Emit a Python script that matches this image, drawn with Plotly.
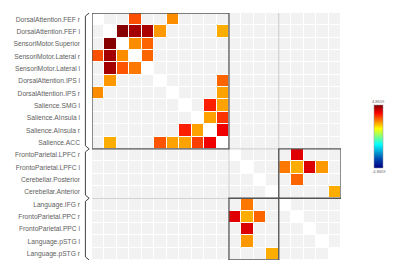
import plotly.graph_objects as go

roi_labels = [
    "DorsalAttention.FEF r", "DorsalAttention.FEF l", "SensoriMotor.Superior",
    "SensoriMotor.Lateral r", "SensoriMotor.Lateral l", "DorsalAttention.IPS l",
    "DorsalAttention.IPS r", "Salience.SMG l", "Salience.AInsula l",
    "Salience.AInsula r", "Salience.ACC", "FrontoParietal.LPFC r",
    "FrontoParietal.LPFC l", "Cerebellar.Posterior", "Cerebellar.Anterior",
    "Language.IFG r", "FrontoParietal.PPC r", "FrontoParietal.PPC l",
    "Language.pSTG l", "Language.pSTG r",
]

# significant connections: (row index, column index, T value)
conn_rows = [0, 0,
             1, 1, 1, 1, 1,
             2, 2, 2,
             3, 3, 3, 3,
             4, 4, 4,
             5, 5,
             6, 6,
             7, 7,
             8, 8,
             9, 9, 9,
             10, 10, 10, 10, 10, 10,
             11,
             12, 12, 12, 12,
             13,
             14,
             15,
             16, 16, 16,
             17,
             18,
             19]
conn_cols = [3, 6,
             2, 3, 4, 5, 10,
             1, 3, 4,
             0, 1, 2, 4,
             1, 2, 3,
             1, 10,
             0, 10,
             9, 10,
             9, 10,
             7, 8, 10,
             1, 5, 6, 7, 8, 9,
             16,
             15, 16, 17, 18,
             16,
             19,
             12,
             11, 12, 13,
             12,
             12,
             14]
conn_vals = [2.9, 2.3,
             4.8, 4.5, 4.45, 2.2, 2.0,
             4.8, 2.3, 2.7,
             2.9, 4.5, 2.3, 2.7,
             4.5, 2.85, 2.5,
             2.2, 2.7,
             2.3, 2.1,
             3.35, 2.1,
             2.1, 3.15,
             3.35, 2.1, 3.75,
             2.0, 2.85, 2.1, 2.1, 3.05, 3.75,
             3.9,
             2.5, 2.0, 3.95, 2.2,
             2.7,
             2.0,
             2.5,
             3.9, 2.0, 2.7,
             3.95,
             2.2,
             2.0]

t_max = 4.8659
n = len(roi_labels)

base = [[1 if i == j else 0 for j in range(n)] for i in range(n)]
zvals = [[None] * n for _ in range(n)]
for r, c, v in zip(conn_rows, conn_cols, conn_vals):
    zvals[r][c] = v

jet = [[0, "rgb(0,0,131)"], [0.125, "rgb(0,60,170)"], [0.375, "rgb(5,255,255)"],
       [0.625, "rgb(255,255,0)"], [0.875, "rgb(250,0,0)"], [1, "rgb(128,0,0)"]]

cb_x = (366 - 84.3) / 248.7
cb_w = 9

fig = go.Figure()
fig.add_trace(go.Heatmap(
    z=base, x=list(range(n)), y=list(range(n)),
    colorscale=[[0, "#f2f2f2"], [1, "#ffffff"]], zmin=0, zmax=1,
    showscale=False, xgap=1, ygap=1, hoverinfo="skip"))
fig.add_trace(go.Heatmap(
    z=zvals, x=list(range(n)), y=list(range(n)),
    colorscale=jet, zmin=-t_max, zmax=t_max, xgap=1, ygap=1,
    colorbar=dict(
        lenmode="pixels", len=63, thicknessmode="pixels", thickness=cb_w,
        x=cb_x, xanchor="left", xpad=0, y=0.5, yanchor="middle", ypad=0,
        showticklabels=False, ticks="", outlinewidth=0.5, outlinecolor="#999")))

shapes = []
light = dict(color="#c8c8c8", width=1)
dark = dict(color="#555555", width=1.3)
shapes.append(dict(type="line", x0=-0.5, x1=19.5, y0=14.5, y1=14.5, xref="x", yref="y", line=light))
shapes.append(dict(type="line", x0=14.5, x1=14.5, y0=-0.5, y1=19.5, xref="x", yref="y", line=light))
shapes.append(dict(type="rect", x0=10.5, x1=14.5, y0=10.5, y1=14.5, xref="x", yref="y", line=light))
shapes.append(dict(type="rect", x0=-0.5, x1=10.5, y0=-0.5, y1=10.5, xref="x", yref="y", line=dark))
shapes.append(dict(type="rect", x0=14.5, x1=19.5, y0=10.5, y1=14.5, xref="x", yref="y", line=dark))
shapes.append(dict(type="rect", x0=10.5, x1=14.5, y0=14.5, y1=19.5, xref="x", yref="y", line=dark))

# group braces on the left
bx, tx = -0.0265, -0.0113
for a, b in [(-0.5, 10.5), (10.5, 14.5), (14.5, 19.5)]:
    path = f"M {tx},{a} L {bx},{a + 0.25} L {bx},{b - 0.25} L {tx},{b}"
    shapes.append(dict(type="path", path=path, xref="paper", yref="y",
                       line=dict(color="#444444", width=1)))

lbl_x = cb_x + (cb_w / 2) / 248.7
fig.update_layout(
    width=400, height=267,
    margin=dict(l=84, r=67, t=5, b=15),
    paper_bgcolor="white", plot_bgcolor="white",
    shapes=shapes,
    font=dict(family="Liberation Sans, Arial, sans-serif", color="#666666"),
    annotations=[
        dict(text="4.8659", x=lbl_x, xref="paper", y=(252 - 94) / 247, yref="paper",
             showarrow=False, font=dict(size=4, color="#666666"), xanchor="center", yanchor="middle"),
        dict(text="-4.8659", x=lbl_x, xref="paper", y=(252 - 163) / 247, yref="paper",
             showarrow=False, font=dict(size=4, color="#666666"), xanchor="center", yanchor="middle"),
    ],
)
fig.update_xaxes(range=[-0.5, 19.5], showticklabels=False, showgrid=False, zeroline=False, ticks="")
fig.update_yaxes(range=[19.5, -0.5], tickvals=list(range(n)), ticktext=roi_labels,
                 showgrid=False, zeroline=False, ticks="", ticklabelstandoff=11,
                 tickfont=dict(size=6.7, color="#606060", family="Liberation Sans, Arial, sans-serif"))

fig.write_html("out.html")
